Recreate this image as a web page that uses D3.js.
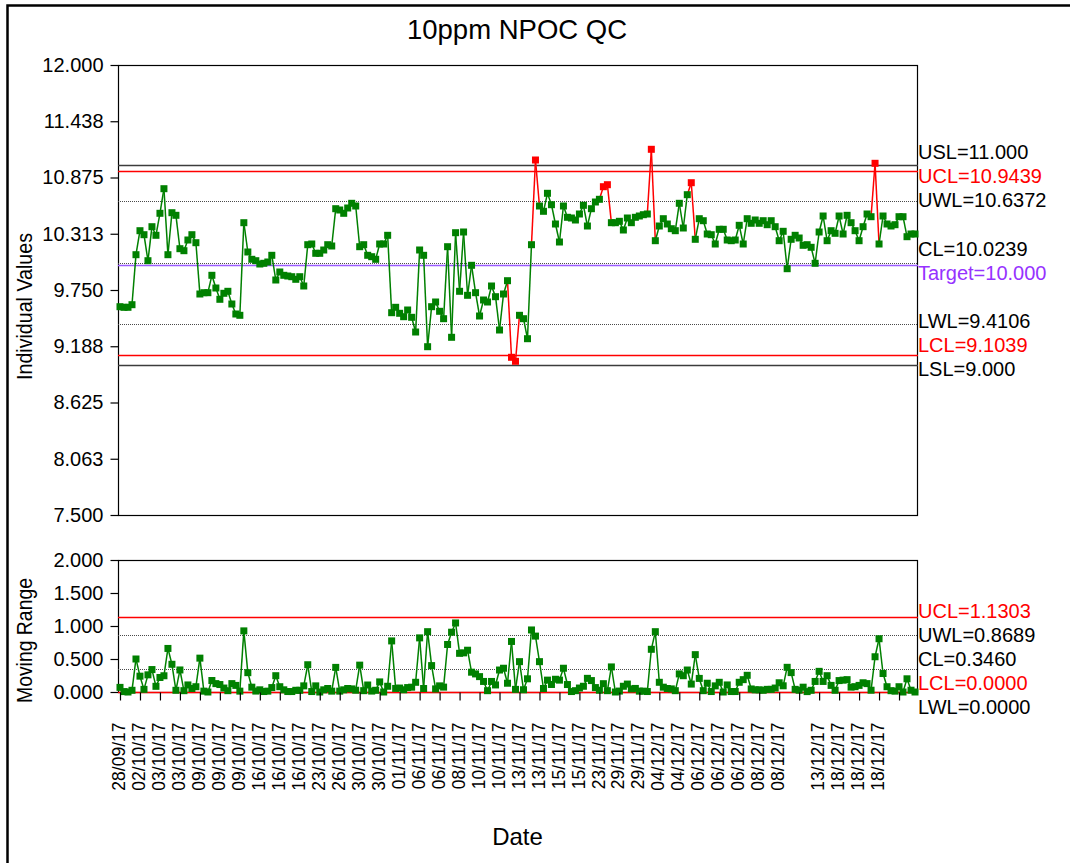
<!DOCTYPE html>
<html>
<head>
<meta charset="utf-8">
<script src="https://cdn.jsdelivr.net/npm/d3@7"></script>
<style>
  html, body { margin: 0; padding: 0; background: #fff; overflow: hidden; }
  svg { display: block; font-family: "Liberation Sans", Arial, sans-serif; }
</style>
</head>
<body>
<svg id="chart" width="1070" height="863"></svg>
<script>
// Individual NPOC results for the 10 ppm QC standard, in run order
const individuals = [
  9.583, 9.577, 9.577, 9.603, 10.103, 10.343, 10.303, 10.043, 10.383, 10.297,
  10.517, 10.763, 10.103, 10.523, 10.497, 10.163, 10.143, 10.250, 10.303, 10.223,
  9.710, 9.723, 9.723, 9.897, 9.770, 9.657, 9.717, 9.737, 9.610, 9.510,
  9.497, 10.423, 10.130, 10.057, 10.043, 10.010, 10.017, 10.030, 10.097, 9.850,
  9.930, 9.897, 9.890, 9.883, 9.857, 9.883, 9.790, 10.203, 10.210, 10.117,
  10.117, 10.150, 10.203, 10.190, 10.563, 10.550, 10.517, 10.570, 10.617, 10.590,
  10.183, 10.203, 10.097, 10.083, 10.057, 10.210, 10.210, 10.297, 9.523, 9.577,
  9.517, 9.483, 9.550, 9.477, 9.330, 10.150, 10.097, 9.183, 9.583, 9.630,
  9.537, 9.463, 10.183, 9.277, 10.323, 9.737, 10.330, 9.697, 9.997, 9.723,
  9.490, 9.650, 9.630, 9.790, 9.683, 9.350, 9.710, 9.843, 9.077, 9.037,
  9.497, 9.463, 9.263, 10.203, 11.050, 10.590, 10.537, 10.717, 10.603, 10.410,
  10.230, 10.590, 10.477, 10.470, 10.450, 10.510, 10.597, 10.390, 10.563, 10.630,
  10.657, 10.783, 10.803, 10.423, 10.423, 10.437, 10.350, 10.470, 10.423, 10.477,
  10.490, 10.503, 10.510, 11.157, 10.243, 10.390, 10.463, 10.410, 10.363, 10.343,
  10.617, 10.370, 10.703, 10.823, 10.257, 10.463, 10.443, 10.310, 10.303, 10.210,
  10.357, 10.357, 10.250, 10.243, 10.250, 10.397, 10.210, 10.463, 10.417, 10.450,
  10.417, 10.443, 10.403, 10.443, 10.383, 10.243, 10.337, 9.963, 10.257, 10.297,
  10.270, 10.197, 10.203, 10.177, 10.017, 10.330, 10.490, 10.243, 10.343, 10.317,
  10.490, 10.310, 10.497, 10.423, 10.343, 10.243, 10.383, 10.510, 10.483, 11.017,
  10.210, 10.490, 10.410, 10.390, 10.403, 10.483, 10.483, 10.283, 10.310, 10.310
];

// Sample numbers (1-based) flagged as out of control
const outOfControl = [99, 100, 105, 122, 123, 134, 144, 190];

// Range of the first sample against the run before it
const firstMovingRange = 0.07;

// Date shown under every fifth sample (blank where none is printed)
const dateLabels = [
  "28/09/17", "02/10/17", "03/10/17", "03/10/17", "09/10/17", "09/10/17", "09/10/17", "16/10/17",
  "16/10/17", "16/10/17", "23/10/17", "26/10/17", "30/10/17", "30/10/17", "01/11/17", "06/11/17",
  "06/11/17", "08/11/17", "10/11/17", "10/11/17", "13/11/17", "13/11/17", "15/11/17", "15/11/17",
  "23/11/17", "29/11/17", "29/11/17", "04/12/17", "04/12/17", "06/12/17", "06/12/17", "06/12/17",
  "08/12/17", "08/12/17", "", "13/12/17", "18/12/17", "18/12/17", "18/12/17", ""
];

// Limits of the individuals chart
const individualLimitNames  = ["USL", "UCL", "UWL", "CL", "Target", "LWL", "LCL", "LSL"];
const individualLimitValues = ["11.000", "10.9439", "10.6372", "10.0239", "10.000", "9.4106", "9.1039", "9.000"];
const individualLimitKinds  = ["spec", "control", "warning", "centre", "target", "warning", "control", "spec"];

// Limits of the moving range chart
const rangeLimitNames  = ["UCL", "UWL", "CL", "LCL", "LWL"];
const rangeLimitValues = ["1.1303", "0.8689", "0.3460", "0.0000", "0.0000"];
const rangeLimitKinds  = ["control", "warning", "centre", "control", "warning"];

// Axis ticks
const individualTicks = [7.5, 8.0625, 8.625, 9.1875, 9.75, 10.3125, 10.875, 11.4375, 12];
const rangeTicks = [0, 0.5, 1, 1.5, 2];
const dateTickEvery = 5;

// ---------------------------------------------------------------------------
const svg = d3.select("#chart");
const plotLeft = 118, plotRight = 917;
const indTop = 65, indBottom = 515;
const mrTop = 560, mrBottom = 692;
const labelX = 918;
const font = 20;

const sampleIds = d3.range(1, individuals.length + 1);
const movingRanges = individuals.map((v, i) => i === 0 ? firstMovingRange : Math.abs(v - individuals[i - 1]));
const flagged = new Set(outOfControl);

const x = d3.scalePoint().domain(sampleIds).range([plotLeft, plotRight]).padding(0.5);
const yInd = d3.scaleLinear().domain([7.5, 12]).range([indBottom, indTop]);
const yMr = d3.scaleLinear().domain([0, 2]).range([mrBottom, mrTop]);

const lineStyle = {
  spec:    { stroke: "#3c3c3c", width: 1.5, dash: null, text: "#000000", order: 1 },
  control: { stroke: "#ff0000", width: 1.4, dash: null, text: "#ff0000", order: 3 },
  warning: { stroke: "#4a4a4a", width: 1.1, dash: "1,1", text: "#000000", order: 0 },
  centre:  { stroke: "#4a4a4a", width: 1.1, dash: "1,1", text: "#000000", order: 0 },
  target:  { stroke: "#9b5cff", width: 1.6, dash: null, text: "#9632ff", order: 2 }
};

// outer border (runs off the right and bottom edges)
svg.append("path")
  .attr("d", "M7.5,870 V5.5 H1080")
  .attr("fill", "none").attr("stroke", "#000").attr("stroke-width", 2.5);

// title
svg.append("text")
  .attr("x", 517).attr("y", 39)
  .attr("text-anchor", "middle")
  .attr("font-size", 27.5)
  .text("10ppm NPOC QC");

// stack limit labels so they never overlap, keeping each group centred on its lines
function stackLabels(desired, gap) {
  let groups = desired.map((d, i) => ({ items: [i], start: d }));
  let changed = true;
  while (changed) {
    changed = false;
    for (let g = 0; g < groups.length - 1; g++) {
      const a = groups[g], b = groups[g + 1];
      if (b.start < a.start + a.items.length * gap) {
        const items = a.items.concat(b.items);
        const start = d3.mean(items, (it, k) => desired[it] - k * gap);
        groups.splice(g, 2, { items, start });
        changed = true;
        break;
      }
    }
  }
  const out = [];
  groups.forEach(gr => gr.items.forEach((it, k) => { out[it] = gr.start + k * gap; }));
  return out;
}

function drawPanel(yScale, top, bottom, ticks, names, values, kinds) {
  const g = svg.append("g");

  // frame
  g.append("rect")
    .attr("class", "frame")
    .attr("x", plotLeft + 0.5).attr("y", top + 0.5)
    .attr("width", plotRight - plotLeft).attr("height", bottom - top)
    .attr("fill", "none").attr("stroke", "#000").attr("stroke-width", 1.2);

  // y axis
  const axis = g.append("g")
    .attr("class", "y-axis")
    .attr("transform", `translate(${plotLeft + 0.5},0)`)
    .call(d3.axisLeft(yScale).tickValues(ticks).tickFormat(d3.format(".3f")).tickSize(8).tickPadding(7));
  axis.select(".domain").remove();
  axis.selectAll("line").attr("stroke", "#000").attr("stroke-width", 1.2);
  axis.selectAll("text")
    .attr("font-size", font)
    .attr("font-family", "'Liberation Sans', Arial, sans-serif")
    .attr("fill", "#000");

  // limit lines
  const limits = names.map((n, i) => ({ name: n, value: +values[i], text: values[i], kind: kinds[i] }));
  const drawOrder = limits.slice().sort((a, b) => lineStyle[a.kind].order - lineStyle[b.kind].order);
  const limitLayer = g.append("g").attr("class", "limits");
  limitLayer.selectAll("line.limit")
    .data(drawOrder)
    .join("line")
    .attr("class", "limit")
    .attr("x1", plotLeft).attr("x2", plotRight + 1)
    .attr("y1", d => Math.round(yScale(d.value)) + 0.5)
    .attr("y2", d => Math.round(yScale(d.value)) + 0.5)
    .style("stroke", d => lineStyle[d.kind].stroke)
    .style("stroke-width", d => lineStyle[d.kind].width)
    .style("stroke-dasharray", d => lineStyle[d.kind].dash || "none");

  // limit labels on the right
  const pos = stackLabels(limits.map(d => yScale(d.value) + 4.5), 24);
  g.append("g").attr("class", "limit-labels")
    .selectAll("text")
    .data(limits)
    .join("text")
    .attr("x", labelX)
    .attr("y", (d, i) => pos[i])
    .attr("font-size", font)
    .style("fill", d => lineStyle[d.kind].text)
    .text(d => `${d.name}=${d.text}`);
  return g;
}

function drawSeries(g, values, yScale, useFlags) {
  const pts = values.map((v, i) => ({ id: i + 1, v }));
  const layer = g.append("g").attr("class", "series");
  layer.selectAll("line")
    .data(d3.pairs(pts))
    .join("line")
    .attr("x1", d => x(d[0].id)).attr("y1", d => yScale(d[0].v))
    .attr("x2", d => x(d[1].id)).attr("y2", d => yScale(d[1].v))
    .style("stroke", d => useFlags && (flagged.has(d[0].id) || flagged.has(d[1].id)) ? "#ff0000" : "#008000")
    .style("stroke-width", 1.5);
  const s = 7;
  layer.selectAll("rect")
    .data(pts)
    .join("rect")
    .attr("x", d => x(d.id) - s / 2).attr("y", d => yScale(d.v) - s / 2)
    .attr("width", s).attr("height", s)
    .style("fill", d => useFlags && flagged.has(d.id) ? "#ff0000" : "#008000");
}

const indPanel = drawPanel(yInd, indTop, indBottom, individualTicks,
  individualLimitNames, individualLimitValues, individualLimitKinds);
drawSeries(indPanel, individuals, yInd, true);

const mrPanel = drawPanel(yMr, mrTop, mrBottom, rangeTicks,
  rangeLimitNames, rangeLimitValues, rangeLimitKinds);
drawSeries(mrPanel, movingRanges, yMr, false);

// date axis under the moving range chart
const tickIds = sampleIds.filter(id => (id - 1) % dateTickEvery === 0);
const xAxis = svg.append("g")
  .attr("transform", `translate(0,${mrBottom + 0.5})`)
  .call(d3.axisBottom(x).tickValues(tickIds).tickSize(8)
    .tickFormat(id => dateLabels[(id - 1) / dateTickEvery] || ""));
xAxis.select(".domain").remove();
xAxis.selectAll("line").attr("stroke", "#000").attr("stroke-width", 1.2);
xAxis.selectAll("text")
  .attr("font-size", 17.5)
  .attr("font-family", "'Liberation Sans', Arial, sans-serif")
  .attr("fill", "#000")
  .attr("text-anchor", "end")
  .attr("transform", "translate(-1.5,30) rotate(-90)")
  .attr("x", 0).attr("y", 0).attr("dy", "0.35em");

// axis titles
svg.append("text")
  .attr("transform", "translate(32,306.5) rotate(-90)")
  .attr("text-anchor", "middle")
  .attr("font-size", 22)
  .attr("textLength", 147).attr("lengthAdjust", "spacingAndGlyphs")
  .text("Individual Values");

svg.append("text")
  .attr("transform", "translate(32,640.5) rotate(-90)")
  .attr("text-anchor", "middle")
  .attr("font-size", 22)
  .attr("textLength", 125).attr("lengthAdjust", "spacingAndGlyphs")
  .text("Moving Range");

svg.append("text")
  .attr("x", 517.5).attr("y", 845)
  .attr("text-anchor", "middle")
  .attr("font-size", 24)
  .text("Date");
</script>
</body>
</html>
